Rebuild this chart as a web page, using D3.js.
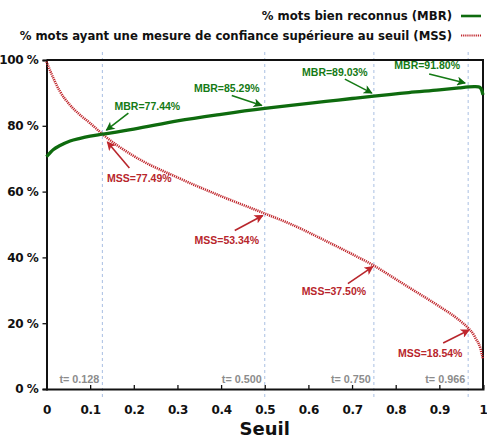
<!DOCTYPE html>
<meta charset="utf-8">
<style>
body { margin: 0; background: #fff; }
text { font-family: "DejaVu Sans", sans-serif; }
.ann { font-family: "Liberation Sans", Arial, sans-serif; font-weight: bold; font-size: 10.5px; }
</style>
<script src="https://cdn.jsdelivr.net/npm/d3@7"></script>
<body>
<script>
// seuil (threshold) sampled along the curves
const seuil = [0, 0.016, 0.031, 0.054, 0.077, 0.1, 0.128, 0.2, 0.3, 0.4, 0.5, 0.565, 0.64, 0.7, 0.75, 0.8, 0.83, 0.9, 0.945, 0.966, 0.98, 0.983, 0.99, 0.994, 0.997, 1];
const mbr = [70.6, 72.8, 74.0, 75.4, 76.2, 76.85, 77.44, 79.0, 81.5, 83.5, 85.29, 86.3, 87.4, 88.3, 89.03, 89.7, 90.1, 90.9, 91.5, 91.8, 91.9, 91.9, 91.8, 91.5, 90.8, 89.4];
const mss = [99.5, 94.4, 90.4, 86.3, 83.3, 80.8, 77.49, 70.8, 64.3, 58.6, 53.34, 49.8, 45.0, 41.0, 37.5, 33.4, 30.9, 25.1, 21.0, 18.54, 16.2, 15.4, 13.8, 12.4, 10.8, 9.2];

const marks = [0.128, 0.500, 0.750, 0.966];
const mbrAt = [77.44, 85.29, 89.03, 91.80];
const mssAt = [77.49, 53.34, 37.50, 18.54];
const markLabels = ['t= 0.128', 't= 0.500', 't= 0.750', 't= 0.966'];

const xTicks = [0, 0.1, 0.2, 0.3, 0.4, 0.5, 0.6, 0.7, 0.8, 0.9, 1];
const yTicks = [0, 20, 40, 60, 80, 100];
const legendLabels = ['% mots bien reconnus (MBR)', '% mots ayant une mesure de confiance supérieure au seuil (MSS)'];

const green = '#0e6b0e', red = '#c0272d';

const W = 487, H = 439;
const margin = { top: 60, right: 4, bottom: 50, left: 46.5 };
const width = 483 - margin.left;
const height = 389 - margin.top;

const root = d3.select('body').append('svg')
    .attr('width', W).attr('height', H);

const defs = root.append('defs');
[['ag', green], ['ar', red]].forEach(([id, c]) => {
  defs.append('marker')
      .attr('id', id)
      .attr('viewBox', '0 0 10 10')
      .attr('refX', 9).attr('refY', 5)
      .attr('markerUnits', 'userSpaceOnUse')
      .attr('markerWidth', 10).attr('markerHeight', 9)
      .attr('orient', 'auto')
    .append('path')
      .attr('d', 'M0,0 L10,5 L0,10 L2.5,5 Z')
      .attr('fill', c);
});

const svg = root.append('g')
    .attr('transform', `translate(${margin.left},${margin.top})`);

const x = d3.scaleLinear().domain([0, 1]).range([0, width]);
const y = d3.scaleLinear().domain([0, 100]).range([height, 0]);

// dashed threshold lines
svg.selectAll('.vline').data(marks).enter().append('line')
    .attr('x1', d => x(d)).attr('x2', d => x(d))
    .attr('y1', -8).attr('y2', height + 8)
    .attr('stroke', '#a9bfe2').attr('stroke-width', 1)
    .attr('stroke-dasharray', '3,3');

svg.selectAll('.tlab').data(marks).enter().append('text')
    .attr('x', d => x(d) - 3)
    .attr('y', height - 6)
    .attr('text-anchor', 'end')
    .attr('class', 'ann')
    .style('font-size', '10.8px')
    .attr('fill', '#8c8c8c')
    .text((d, i) => markLabels[i]);

// axes
const yAxis = svg.append('g')
    .call(d3.axisLeft(y).tickValues(yTicks).tickSize(4).tickFormat(d => d + ' %'));
const xAxis = svg.append('g')
    .attr('transform', `translate(0,${height})`)
    .call(d3.axisBottom(x).tickValues(xTicks).tickSize(-4).tickPadding(16)
      .tickFormat(d => d === 0 || d === 1 ? d3.format('d')(d) : d3.format('.1f')(d)));
[xAxis, yAxis].forEach(a => {
  a.select('.domain').attr('stroke', '#111').attr('stroke-width', 2);
  a.selectAll('.tick line').attr('stroke', '#111').attr('stroke-width', 1.3);
  a.selectAll('text').attr('fill', '#111')
      .style('font-family', '"DejaVu Sans", sans-serif')
      .style('font-weight', 'bold').style('font-size', '12px')
      .style('letter-spacing', '-0.4px');
});
yAxis.selectAll('text').attr('dx', '-1');

// frame top + right
svg.append('path')
    .attr('d', `M0,0 H${width} V${height}`)
    .attr('fill', 'none').attr('stroke', '#111').attr('stroke-width', 2);

svg.append('text')
    .attr('x', x(0.5)).attr('y', height + 46)
    .attr('text-anchor', 'middle')
    .style('font-weight', 'bold').style('font-size', '18px')
    .attr('fill', '#111')
    .text('Seuil');

// curves
const curve = d3.line().x((d, i) => x(seuil[i])).y(d => y(d)).curve(d3.curveMonotoneX);
svg.append('path').datum(mss)
    .attr('d', curve)
    .attr('fill', 'none').attr('stroke', red).attr('stroke-width', 2.6)
    .attr('stroke-dasharray', '1.2,0.9');
svg.append('path').datum(mbr)
    .attr('d', curve)
    .attr('fill', 'none').attr('stroke', green).attr('stroke-width', 3.3);

// annotations: offsets in px from the marked point
const mbrAnn = [
  { t: [45, -24], a: [26, -21], h: [4, -4] },
  { t: [-38, -16], a: [-33, -13], h: [-3, -3] },
  { t: [-39, -20], a: [-29, -17], h: [-2, -3] },
  { t: [-41, -18], a: [-39, -13], h: [-3, -4] }
];
const mssAnn = [
  { t: [37, 48], a: [27, 34], h: [5, 8] },
  { t: [-38, 30], a: [-30, 17], h: [-2, 2] },
  { t: [-40, 29], a: [-26, 18], h: [-1, 1] },
  { t: [-38, 29], a: [-25, 15], h: [1, 2] }
];

function annotate(vals, offs, name, color, mk) {
  const g = svg.append('g');
  vals.forEach((v, i) => {
    const px = x(marks[i]), py = y(v), o = offs[i];
    g.append('line')
        .attr('x1', px + o.a[0]).attr('y1', py + o.a[1])
        .attr('x2', px + o.h[0]).attr('y2', py + o.h[1])
        .attr('stroke', color).attr('stroke-width', 1.6)
        .attr('marker-end', `url(#${mk})`);
    g.append('text')
        .attr('class', 'ann')
        .attr('x', px + o.t[0]).attr('y', py + o.t[1])
        .attr('text-anchor', 'middle')
        .attr('fill', color)
        .text(`${name}=${v.toFixed(2)}%`);
  });
}
annotate(mbrAt, mbrAnn, 'MBR', '#157a15', 'ag');
annotate(mssAt, mssAnn, 'MSS', '#b8262c', 'ar');

// legend
const leg = root.append('g');
legendLabels.forEach((lab, i) => {
  const ly = 16 + i * 19.5;
  leg.append('text')
      .attr('x', 452).attr('y', ly + 4)
      .attr('text-anchor', 'end')
      .style('font-weight', 'bold').style('font-size', '11.7px')
      .attr('fill', '#111')
      .text(lab);
  leg.append('line')
      .attr('x1', 461).attr('x2', 481).attr('y1', ly).attr('y2', ly)
      .attr('stroke', i === 0 ? green : red)
      .attr('stroke-width', i === 0 ? 2.6 : 2.2)
      .attr('stroke-dasharray', i === 0 ? null : '1.2,0.9');
});
</script>
</body>
</html>
